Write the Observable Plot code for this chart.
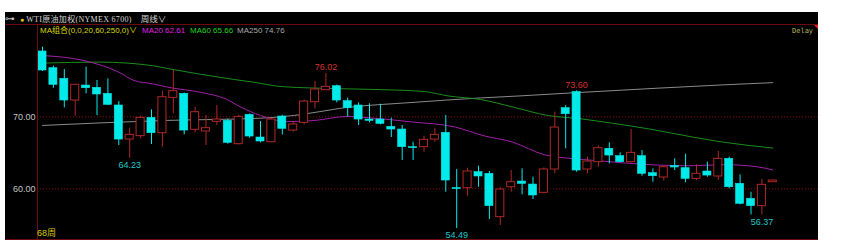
<!DOCTYPE html>
<html><head><meta charset="utf-8">
<script src="https://cdn.jsdelivr.net/npm/d3@7"></script>
<script src="https://cdn.jsdelivr.net/npm/@observablehq/plot@0.6"></script>
<style>
html,body{margin:0;padding:0;background:#fff;}
body{width:843px;height:246px;overflow:hidden;position:relative;font-family:"Liberation Sans",Arial,"Noto Sans CJK SC",sans-serif;}
#panel{position:absolute;left:5px;top:12px;width:813px;height:228px;background:#000;overflow:hidden;}
#hdr{position:absolute;left:0;top:0;width:813px;height:12px;border-bottom:1px solid #6e0a0a;font:8px "Liberation Serif","Noto Sans CJK SC",serif;color:#d4d4d4;line-height:12px;white-space:nowrap;}
#chart{position:absolute;left:0;top:13px;}
.t{position:absolute;white-space:nowrap;line-height:10px;font-size:8px;}
</style></head><body>
<div id="panel">
  <div id="hdr"><span style="font-family:'DejaVu Sans';color:#bbb;font-size:10px">⊶</span><span style="margin-left:5px;color:#e8c800;font-size:7px">●</span><span style="margin-left:2px;letter-spacing:0.3px" id="title"></span><span style="margin-left:9px;font-family:'Noto Sans CJK SC';font-size:8.5px" id="period"></span></div>
  <div id="chart"></div>
  <div id="axisL" style="position:absolute;left:32px;top:13px;width:1px;height:215px;background:#6e0a0a"></div>
  <div id="axisB" style="position:absolute;left:0;top:227px;width:813px;height:1px;background:#6e0a0a"></div>
  <div id="legend"></div>
  <div class="t" style="left:787px;top:14px;color:#b4b45a;font-family:'DejaVu Sans Mono';font-size:7px">Delay</div>
  <div style="position:absolute;left:809px;top:13px;width:0;height:0;border-top:4px solid #e02020;border-left:4px solid transparent"></div>
  <div class="t" id="count" style="left:32px;top:216px;color:#d8c800;font-size:9px"></div>
</div>
<script>
// ---- data (weekly candles, WTI) ----
const opens  = [79.07,76.75,75.27,72.26,74.34,74.02,73.19,71.57,66.84,67.31,69.85,67.72,72.63,73.19,68.19,67.96,69.30,69.44,66.20,70.27,67.12,66.47,70.04,68.09,69.16,72.03,73.70,74.25,72.17,71.57,69.62,69.62,68.60,68.23,65.78,65.78,66.84,67.77,60.09,60.09,62.31,62.08,56.06,60.22,61.01,60.59,59.44,62.68,71.20,73.45,62.68,63.70,65.55,64.53,63.70,64.53,62.17,61.57,63.14,62.86,61.38,62.40,61.71,64.16,60.69,58.60,57.59,60.92];
const highs  = [79.67,77.03,76.57,74.50,76.89,75.04,75.27,72.12,68.42,70.09,70.96,73.56,76.43,73.30,71.29,70.18,71.57,69.70,70.20,70.40,69.34,69.80,70.20,69.34,72.30,74.90,76.02,74.40,72.59,71.94,71.80,71.75,69.81,68.79,66.47,67.31,68.42,70.18,62.68,62.86,63.14,62.40,60.20,62.54,62.77,61.61,62.90,70.64,71.57,73.60,64.39,66.00,66.38,64.99,68.23,65.32,62.77,63.20,64.16,64.81,63.33,63.70,65.18,64.40,61.94,59.53,61.29,61.20];
const lows   = [76.30,73.97,71.24,70.09,73.19,70.18,71.60,66.01,64.23,66.94,66.15,65.78,70.41,67.49,67.77,66.01,68.79,66.20,66.10,67.03,66.38,66.40,67.49,67.86,68.88,71.10,73.60,71.94,69.95,68.79,69.16,68.88,67.12,63.93,63.93,65.09,66.47,59.53,54.49,58.97,60.22,55.73,54.90,59.53,59.16,58.51,59.30,62.08,65.55,62.31,62.10,63.00,63.46,63.60,63.60,61.75,60.92,61.10,62.54,60.83,61.15,61.61,61.15,59.99,57.77,56.38,56.37,60.90];
const closes = [76.43,74.44,72.26,74.44,73.97,73.10,71.66,66.84,67.49,69.85,67.72,72.72,73.56,68.09,70.64,68.42,69.62,66.38,69.99,67.26,66.57,69.62,68.33,68.93,72.12,73.79,74.16,72.26,71.20,69.62,69.44,69.02,68.23,65.78,65.64,66.80,67.49,61.15,59.95,62.40,61.71,57.59,59.90,60.92,60.69,59.07,62.68,68.51,70.36,62.54,63.79,65.64,64.62,63.70,64.99,62.08,61.75,63.00,62.96,61.38,62.08,61.84,64.16,60.22,57.91,57.59,60.55,61.15];

// moving averages read at points along each line (week index, value)
const ma20Idx  = [0,3.9,7,8.4,10.1,11.5,14.5,16.8,18.2,20,22.5,24.9,28,30.1,33.8,37.9,40.4,43.1,46.1,48.6,50.7,53.3,56.4,59.4,62.5,65.6,67];
const ma20Val  = [78.51,77.78,76.2,75.04,74.58,74.11,73.4,72.49,71.34,70.18,69.34,69.48,70.05,69.85,69.3,68.56,67.4,66.5,64.7,64.2,63.93,63.6,63.3,63.2,63.35,63.05,62.61];
const ma60Idx  = [0,5.2,10.1,11.5,17.5,19.4,21.9,27.4,31.6,35.1,37.2,40.2,43.2,46.3,49.4,52.3,55.7,59.7,62.5,67];
const ma60Val  = [77.45,77.6,77.1,76.7,75.2,74.8,74.2,73.9,73.75,73.5,72.9,72.4,71.34,70.2,69.72,69.1,68.3,67.17,66.47,65.66];
const ma250Idx = [0,11.5,19.9,23.7,27.4,34,40.2,43.8,48.7,56.4,62.5,67];
const ma250Val = [68.8,69.5,69.8,70.3,71.2,72.0,72.62,72.9,73.33,73.97,74.44,74.74];

const yTicks = [60, 70];
const highMarkIdx = [26, 49];
const lowMarkIdx  = [8, 38, 66];

const maNames = ["MA20", "MA60", "MA250"];
const maLast  = [62.61, 65.66, 74.76];
const maParams = "MA组合(0,0,20,60,250,0)";
const titleText = "WTI原油加权(NYMEX 6700)";
const periodText = "周线∨";
const barCount = "68周";

// ---- build ----
const RED = "#b02828", CYAN = "#00eaea";
const MA_COL = ["#a020a8", "#1c8c1c", "#8a8a8a"];
const MA_TXT = ["#e020e0", "#20d020", "#a8a8a8"];

document.getElementById("title").textContent = titleText;
document.getElementById("period").textContent = periodText;
document.getElementById("count").textContent = barCount;

const leg = document.getElementById("legend");
const legPos = [35, 137, 185, 232];
const mk = (txt, left, col) => { const d = document.createElement("div"); d.className = "t"; d.style.left = left + "px"; d.style.top = "14px"; d.style.color = col; d.textContent = txt; leg.appendChild(d); };
mk(maParams + "∨", legPos[0], "#d8d800");
maNames.forEach((n, k) => mk(n + " " + maLast[k].toFixed(2), legPos[k + 1], MA_TXT[k]));

const candles = opens.map((o, i) => ({i, open: o, high: highs[i], low: lows[i], close: closes[i], up: closes[i] >= o}));
const up = candles.filter(d => d.up), down = candles.filter(d => !d.up);
const ma = (I, V) => I.map((i, k) => ({i, v: V[k]}));
const highMarks = highMarkIdx.map(i => candles[i]);
const lowMarks = lowMarkIdx.map(i => candles[i]);
const hw = 0.37;

const chart = Plot.plot({
  width: 813, height: 215,
  marginLeft: 32, marginRight: 0, marginTop: 0, marginBottom: 0,
  style: {background: "transparent", color: "#c0c0c0", fontFamily: "'Liberation Sans', Arial, sans-serif", fontSize: "9px"},
  x: {type: "linear", domain: [0, 67], range: [37, 767.3], axis: null},
  y: {domain: [53, 80], range: [213.7, 19.3], axis: null},
  marks: [
    Plot.ruleY(yTicks, {stroke: "#8b0a0a", strokeDasharray: "1,2"}),
    Plot.axisY({ticks: yTicks, tickFormat: d => d.toFixed(2), tickSize: 0, tickPadding: 2, fill: "#c4c4c4", fontSize: 9}),
    Plot.line(ma(ma250Idx, ma250Val), {x: "i", y: "v", stroke: MA_COL[2], curve: "monotone-x", strokeWidth: 1}),
    Plot.line(ma(ma60Idx, ma60Val), {x: "i", y: "v", stroke: MA_COL[1], curve: "monotone-x", strokeWidth: 1}),
    Plot.line(ma(ma20Idx, ma20Val), {x: "i", y: "v", stroke: MA_COL[0], curve: "monotone-x", strokeWidth: 1}),
    Plot.ruleX(down, {x: "i", y1: "low", y2: "high", stroke: CYAN}),
    Plot.ruleX(up, {x: "i", y1: "low", y2: "high", stroke: RED}),
    Plot.rect(down, {x1: d => d.i - hw, x2: d => d.i + hw, y1: "open", y2: "close", fill: CYAN, stroke: CYAN, strokeWidth: 0.6}),
    Plot.rect(up, {x1: d => d.i - hw, x2: d => d.i + hw, y1: "open", y2: "close", fill: "#000", stroke: RED}),
    Plot.text(highMarks, {x: "i", y: "high", text: d => d.high.toFixed(2), dy: -6, fill: "#d83030", fontSize: 9}),
    Plot.text(lowMarks, {x: "i", y: "low", text: d => d.low.toFixed(2), dy: 7, fill: "#20c8c8", fontSize: 9})
  ]
});
document.getElementById("chart").appendChild(chart);
</script>
</body></html>
